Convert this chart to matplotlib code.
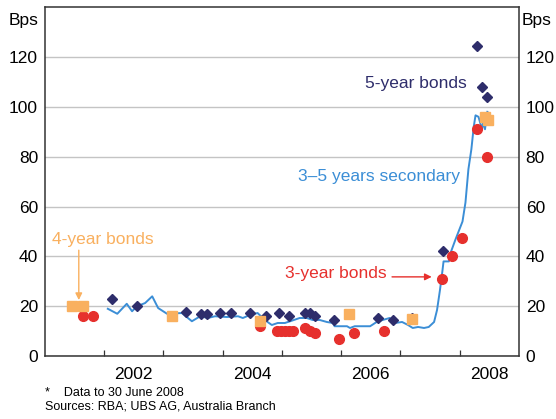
import matplotlib
matplotlib.use("Agg")
import matplotlib.pyplot as plt
import matplotlib.transforms as mtransforms

plt.rcParams["font.family"] = ["Liberation Sans", "DejaVu Sans"]

# 3-5 years secondary spread (line)
sec_x = [2002.06, 2002.22, 2002.38, 2002.47, 2002.55, 2002.69, 2002.81, 2002.91,
         2003.06, 2003.31, 2003.48, 2003.62, 2003.75, 2003.87, 2004.07, 2004.26,
         2004.34, 2004.46, 2004.59, 2004.71, 2004.83, 2004.93, 2005.05, 2005.14,
         2005.30, 2005.42, 2005.52, 2005.64, 2005.76, 2005.86, 2005.89, 2006.10,
         2006.15, 2006.23, 2006.49, 2006.60, 2006.70, 2006.82, 2006.91, 2007.03,
         2007.13, 2007.21, 2007.30, 2007.40, 2007.48, 2007.57, 2007.62, 2007.67,
         2007.71, 2007.73, 2007.82, 2007.85, 2007.93, 2008.05, 2008.10, 2008.15,
         2008.20, 2008.24, 2008.27, 2008.32, 2008.38, 2008.40, 2008.43, 2008.47]
sec_y = [19, 17, 21, 18, 20, 21.3, 24, 19.3,
         17, 17.3, 14, 16, 15.3, 16, 15.7, 16,
         15.3, 16.5, 17.3, 14.5, 12.5, 13.3, 13.3, 14,
         15.3, 15.3, 14.5, 14.5, 13.7, 13.3, 12, 12,
         11.3, 12, 12, 13.7, 14.5, 15.3, 13.3, 13.7,
         12.5, 11.3, 11.7, 11.3, 11.7, 13.7, 18.5, 26.6,
         34, 38, 38, 41.5, 46.7, 54, 61.6, 75,
         83, 92, 96.6, 96, 91, 94, 91, 98]

# 5-year bonds (diamonds)
five_x = [2002.13, 2002.55, 2003.38, 2003.63, 2003.73, 2003.95, 2004.14, 2004.46,
          2004.73, 2004.95, 2005.12, 2005.39, 2005.47, 2005.56, 2005.88, 2006.62,
          2006.87, 2007.20, 2007.72, 2008.29, 2008.38, 2008.46]
five_y = [23, 20, 17.7, 17, 17, 17.3, 17.3, 17.3,
          16, 17.3, 16, 17.3, 17.3, 16, 14.5, 15.3,
          14.5, 15.3, 42, 124.6, 108, 104]

# 4-year bonds (squares)
four_x = [2001.46, 2001.64, 2003.14, 2004.63, 2006.13, 2007.20, 2008.43, 2008.48]
four_y = [20, 20, 16, 14, 17, 15, 96, 94.6]

# 3-year bonds (circles)
three_x = [2001.64, 2001.81, 2004.63, 2004.92, 2004.99, 2005.05, 2005.12, 2005.19,
           2005.39, 2005.47, 2005.56, 2005.96, 2006.22, 2006.72, 2007.70, 2007.88,
           2008.05, 2008.29, 2008.46]
three_y = [16, 16, 12, 10, 10, 10, 10, 10,
           11.3, 10, 9.3, 7, 9.3, 10, 31, 40,
           47.5, 91, 80]

year_labels = ["2002", "2004", "2006", "2008"]

NAVY = "#2e2d6b"
BLUE = "#3b8ed6"
ORANGE = "#f9b05f"
RED = "#e6302d"

fig = plt.figure(figsize=(5.56, 4.19), dpi=100)
ax = fig.add_axes([0.081, 0.150, 0.852, 0.833])

ax.plot(sec_x, sec_y, color=BLUE, lw=1.4, zorder=3)
ax.plot(five_x, five_y, ls="none", marker="D", ms=5.2, color=NAVY, zorder=4)
ax.plot(three_x, three_y, ls="none", marker="o", ms=7, color=RED, zorder=4)
ax.plot(four_x, four_y, ls="none", marker="s", ms=7, color=ORANGE, zorder=5)

ax.set_xlim(2001, 2009)
ax.set_ylim(0, 140)

# year boundaries as inward ticks, labels centred on each year
ax.set_xticks([2002, 2003, 2004, 2005, 2006, 2007, 2008], minor=True)
ax.set_xticks([2002.5, 2004.5, 2006.5, 2008.5])
ax.set_xticklabels(year_labels)
ax.tick_params(axis="x", which="major", length=0, labelsize=12.5, pad=8)
ax.tick_params(axis="x", which="minor", direction="in", length=4, width=0.9,
               color="#333333")

ax.set_yticks(range(0, 121, 20))
ax.tick_params(axis="y", length=0, labelsize=12.5, pad=6,
               labelleft=True, labelright=True)
ax.yaxis.set_tick_params(pad=5)
for t in ax.yaxis.get_major_ticks():
    t.label2.set_fontsize(12.5)

ax.grid(axis="y", color="#c4c4c4", lw=1)
ax.set_axisbelow(True)
for s in ax.spines.values():
    s.set_color("#333333")
    s.set_linewidth(1.1)

trans_l = mtransforms.blended_transform_factory(ax.transAxes, ax.transData)
ax.text(-0.014, 134.5, "Bps", transform=trans_l, ha="right", va="center",
        fontsize=12.5)
ax.text(1.006, 134.5, "Bps", transform=trans_l, ha="left", va="center",
        fontsize=12.5)

ax.text(2008.13, 109.5, "5-year bonds", color=NAVY, ha="right", va="center",
        fontsize=12.5)
ax.text(2008.0, 72, "3\u20135 years secondary", color=BLUE, ha="right",
        va="center", fontsize=12.5)
ax.text(2001.12, 46.7, "4-year bonds", color=ORANGE, ha="left", va="center",
        fontsize=12.5)
ax.annotate("", xy=(2001.57, 22.5), xytext=(2001.57, 42.5),
            arrowprops=dict(arrowstyle="-|>", color=ORANGE, lw=1,
                            shrinkA=0, shrinkB=0, mutation_scale=10))
ax.text(2006.77, 33, "3-year bonds", color=RED, ha="right", va="center",
        fontsize=12.5)
ax.annotate("", xy=(2007.53, 31.8), xytext=(2006.86, 31.8),
            arrowprops=dict(arrowstyle="-|>", color=RED, lw=1,
                            shrinkA=0, shrinkB=0, mutation_scale=10))

fig.text(0.081, 0.062, "*    Data to 30 June 2008", fontsize=9, va="center")
fig.text(0.081, 0.030, "Sources: RBA; UBS AG, Australia Branch", fontsize=9,
         va="center")

fig.savefig("out.png", dpi=100)
